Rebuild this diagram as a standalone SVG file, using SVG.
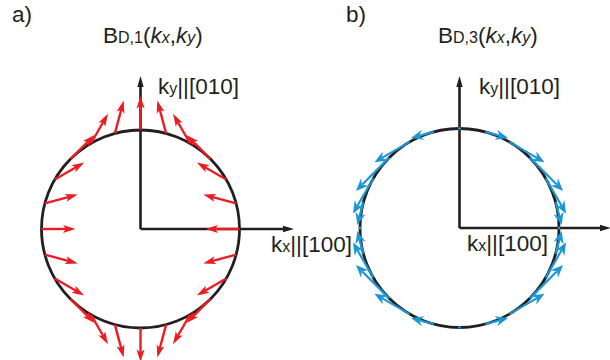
<svg xmlns="http://www.w3.org/2000/svg" xmlns:xlink="http://www.w3.org/1999/xlink" width="610" height="360" viewBox="0 0 610 360">
<style>
  .t { font-family: "Liberation Sans", Arial, sans-serif; font-size: 22.5px; fill: #231f20; }
  .s { font-size: 16px; }
  .i { font-style: italic; }
  .ax { fill: none; stroke: #231f20; stroke-width: 2.6; }
  .ah { fill: #231f20; }
  .circ { fill: none; stroke: #231f20; stroke-width: 2.8; }
  .rl { stroke: #ed1c24; stroke-width: 2.4; fill: none; }
  .rh { fill: #ed1c24; }
  .bl { stroke: #1a98d5; stroke-width: 2.2; fill: none; }
  .bh { fill: #1a98d5; }
</style>
<defs>
  <g id="ra"><path class="rl" d="M0,0H26"/><path class="rh" d="M34,0L21.5,-4L24.5,0L21.5,4Z"/></g>
  <g id="b1"><path class="bl" d="M0,0H15"/><path class="bh" d="M23.5,0L11,-5.2L15,0L11,5.2Z"/></g>
  <g id="b2"><path class="bl" d="M0,0H32"/><path class="bh" d="M40.7,0L28.2,-5.2L32.2,0L28.2,5.2Z"/></g>
  <g id="b3"><path class="bl" d="M0,0H38"/><path class="bh" d="M47,0L34.5,-5.2L38.5,0L34.5,5.2Z"/></g>
</defs>

<!-- Panel a -->
<text class="t" x="12" y="22">a)</text>
<text class="t" x="103" y="43">B<tspan class="s">D,1</tspan>(<tspan class="i">k</tspan><tspan class="s i">x</tspan>,<tspan class="i">k</tspan><tspan class="s i">y</tspan>)</text>

<g id="axes-a">
  <path class="ax" d="M140.5,229V86M140.5,229H284"/>
  <path class="ah" d="M140.5,76L137.3,87L143.7,87Z"/>
  <path class="ah" d="M294,229L283,225.8L283,232.2Z"/>
</g>
<text class="t" x="158" y="94">k<tspan class="s">y</tspan>||[010]</text>
<text class="t" x="271" y="252">k<tspan class="s">x</tspan>||[100]</text>

<circle class="circ" cx="140.5" cy="229" r="99"/>

<g id="field-a" transform="translate(140.5,229)">
  <use xlink:href="#ra" transform="rotate(0) translate(99,0) rotate(180)"/>
  <use xlink:href="#ra" transform="rotate(15) translate(99,0) rotate(150)"/>
  <use xlink:href="#ra" transform="rotate(30) translate(99,0) rotate(120)"/>
  <use xlink:href="#ra" transform="rotate(45) translate(99,0) rotate(90)"/>
  <use xlink:href="#ra" transform="rotate(60) translate(99,0) rotate(60)"/>
  <use xlink:href="#ra" transform="rotate(75) translate(99,0) rotate(30)"/>
  <use xlink:href="#ra" transform="rotate(90) translate(99,0) rotate(0)"/>
  <use xlink:href="#ra" transform="rotate(105) translate(99,0) rotate(-30)"/>
  <use xlink:href="#ra" transform="rotate(120) translate(99,0) rotate(-60)"/>
  <use xlink:href="#ra" transform="rotate(135) translate(99,0) rotate(-90)"/>
  <use xlink:href="#ra" transform="rotate(150) translate(99,0) rotate(-120)"/>
  <use xlink:href="#ra" transform="rotate(165) translate(99,0) rotate(-150)"/>
  <use xlink:href="#ra" transform="rotate(180) translate(99,0) rotate(-180)"/>
  <use xlink:href="#ra" transform="rotate(195) translate(99,0) rotate(-210)"/>
  <use xlink:href="#ra" transform="rotate(210) translate(99,0) rotate(-240)"/>
  <use xlink:href="#ra" transform="rotate(225) translate(99,0) rotate(-270)"/>
  <use xlink:href="#ra" transform="rotate(240) translate(99,0) rotate(-300)"/>
  <use xlink:href="#ra" transform="rotate(255) translate(99,0) rotate(-330)"/>
  <use xlink:href="#ra" transform="rotate(270) translate(99,0) rotate(-360)"/>
  <use xlink:href="#ra" transform="rotate(285) translate(99,0) rotate(-390)"/>
  <use xlink:href="#ra" transform="rotate(300) translate(99,0) rotate(-420)"/>
  <use xlink:href="#ra" transform="rotate(315) translate(99,0) rotate(-450)"/>
  <use xlink:href="#ra" transform="rotate(330) translate(99,0) rotate(-480)"/>
  <use xlink:href="#ra" transform="rotate(345) translate(99,0) rotate(-510)"/>
</g>

<!-- Panel b -->
<text class="t" x="346" y="22">b)</text>
<text class="t" x="438" y="43">B<tspan class="s">D,3</tspan>(<tspan class="i">k</tspan><tspan class="s i">x</tspan>,<tspan class="i">k</tspan><tspan class="s i">y</tspan>)</text>

<g id="axes-b">
  <path class="ax" d="M459.5,228V86M459.5,228H601"/>
  <path class="ah" d="M459.5,76L456.3,87L462.7,87Z"/>
  <path class="ah" d="M611,228L600,224.8L600,231.2Z"/>
</g>
<text class="t" x="479" y="94">k<tspan class="s">y</tspan>||[010]</text>
<text class="t" x="467" y="251">k<tspan class="s">x</tspan>||[100]</text>

<circle class="circ" cx="459.5" cy="228" r="99.5"/>

<g id="field-b" transform="translate(459.5,228)">
  <use xlink:href="#b1" transform="rotate(-15) translate(99.5,0) rotate(90)"/>
  <use xlink:href="#b2" transform="rotate(-30) translate(99.5,0) rotate(90)"/>
  <use xlink:href="#b3" transform="rotate(-45) translate(99.5,0) rotate(90)"/>
  <use xlink:href="#b2" transform="rotate(-60) translate(99.5,0) rotate(90)"/>
  <use xlink:href="#b1" transform="rotate(-75) translate(99.5,0) rotate(90)"/>
  <use xlink:href="#b1" transform="rotate(-105) translate(99.5,0) rotate(-90)"/>
  <use xlink:href="#b2" transform="rotate(-120) translate(99.5,0) rotate(-90)"/>
  <use xlink:href="#b3" transform="rotate(-135) translate(99.5,0) rotate(-90)"/>
  <use xlink:href="#b2" transform="rotate(-150) translate(99.5,0) rotate(-90)"/>
  <use xlink:href="#b1" transform="rotate(-165) translate(99.5,0) rotate(-90)"/>
  <use xlink:href="#b1" transform="rotate(-195) translate(99.5,0) rotate(90)"/>
  <use xlink:href="#b2" transform="rotate(-210) translate(99.5,0) rotate(90)"/>
  <use xlink:href="#b3" transform="rotate(-225) translate(99.5,0) rotate(90)"/>
  <use xlink:href="#b2" transform="rotate(-240) translate(99.5,0) rotate(90)"/>
  <use xlink:href="#b1" transform="rotate(-255) translate(99.5,0) rotate(90)"/>
  <use xlink:href="#b1" transform="rotate(-285) translate(99.5,0) rotate(-90)"/>
  <use xlink:href="#b2" transform="rotate(-300) translate(99.5,0) rotate(-90)"/>
  <use xlink:href="#b3" transform="rotate(-315) translate(99.5,0) rotate(-90)"/>
  <use xlink:href="#b2" transform="rotate(-330) translate(99.5,0) rotate(-90)"/>
  <use xlink:href="#b1" transform="rotate(-345) translate(99.5,0) rotate(-90)"/>
  <circle class="bh" cx="99.5" cy="0" r="1.4"/>
  <circle class="bh" cx="0" cy="99.5" r="1.4"/>
  <circle class="bh" cx="-99.5" cy="0" r="1.4"/>
  <circle class="bh" cx="0" cy="-99.5" r="1.4"/>
</g>
</svg>
